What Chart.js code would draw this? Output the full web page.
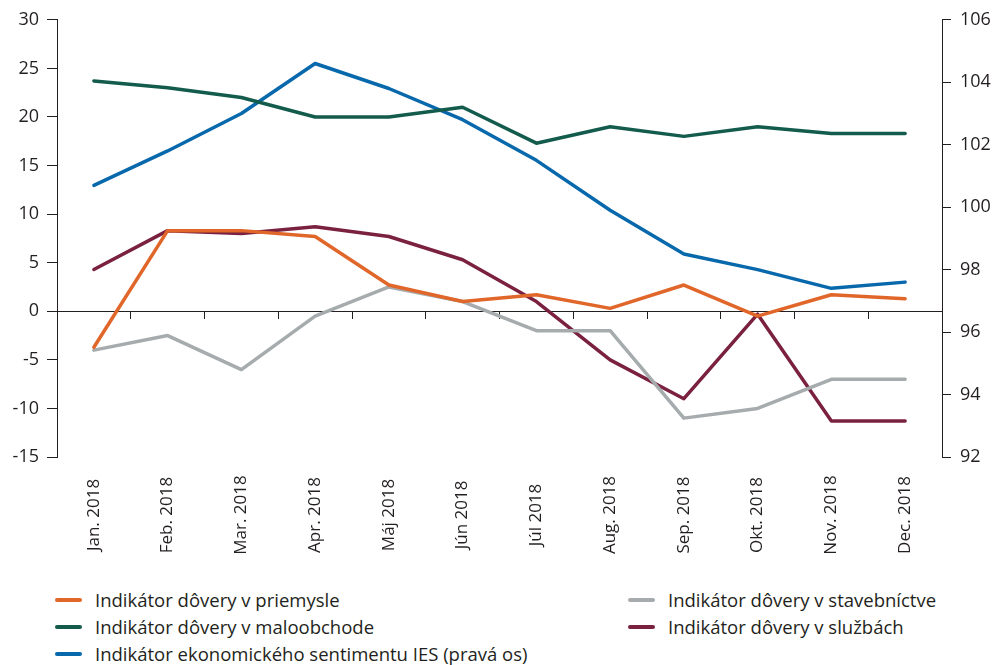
<!DOCTYPE html>
<html>
<head>
<meta charset="utf-8">
<script src="https://cdn.jsdelivr.net/npm/chart.js@4"></script>
<style>
  body { margin: 0; background: #fff; font-family: "Open Sans", sans-serif; color: #231f20; }
  #wrap { position: relative; width: 997px; height: 665px; }
  #chart { position: absolute; left: 0; top: 0; }
  #legend { position: absolute; left: 55px; top: 586px; display: grid; grid-template-columns: 573px 320px; grid-auto-rows: 27px; font-size: 18.5px; }
  .item { display: flex; align-items: center; white-space: nowrap; }
  .swatch { width: 27px; height: 4px; border-radius: 2px; margin-right: 13px; }
</style>
</head>
<body>
<div id="wrap">
  <canvas id="chart" width="997" height="570"></canvas>
  <div id="legend"></div>
</div>
<script>
const labels = ['Jan. 2018', 'Feb. 2018', 'Mar. 2018', 'Apr. 2018', 'Máj 2018', 'Jún 2018',
  'Júl 2018', 'Aug. 2018', 'Sep. 2018', 'Okt. 2018', 'Nov. 2018', 'Dec. 2018'];

// ľavá os
const priemysel = [-3.7, 8.3, 8.3, 7.7, 2.7, 1.0, 1.7, 0.3, 2.7, -0.5, 1.7, 1.3];
const stavebnictvo = [-4.0, -2.5, -6.0, -0.5, 2.5, 1.0, -2.0, -2.0, -11.0, -10.0, -7.0, -7.0];
const maloobchod = [23.7, 23.0, 22.0, 20.0, 20.0, 21.0, 17.3, 19.0, 18.0, 19.0, 18.3, 18.3];
const sluzby = [4.3, 8.3, 8.0, 8.7, 7.7, 5.3, 1.0, -5.0, -9.0, -0.3, -11.3, -11.3];
// pravá os
const ies = [100.7, 101.8, 103.0, 104.6, 103.8, 102.8, 101.5, 99.9, 98.5, 98.0, 97.4, 97.6];

const leftTicks = { min: -15, max: 30, step: 5 };
const rightTicks = { min: 92, max: 106, step: 2 };

const names = [
  'Indikátor dôvery v priemysle',
  'Indikátor dôvery v stavebníctve',
  'Indikátor dôvery v maloobchode',
  'Indikátor dôvery v službách',
  'Indikátor ekonomického sentimentu IES (pravá os)'
];
const colors = ['#e0662a', '#a6abad', '#135b4c', '#7b2140', '#0868ac'];
const series = [priemysel, stavebnictvo, maloobchod, sluzby, ies];

const ink = '#231f20';
const family = '"Open Sans", sans-serif';
const tickFont = { family: family, size: 18 };
const monthFont = { family: family, size: 17 };

// popisky mesiacov, otočené a centrované
const monthLabels = {
  id: 'monthLabels',
  afterDraw(chart) {
    const x = chart.scales.x;
    const c = chart.ctx;
    c.save();
    c.fillStyle = ink;
    c.font = monthFont.size + 'px ' + monthFont.family;
    c.textAlign = 'center';
    c.textBaseline = 'middle';
    labels.forEach((l, i) => {
      c.save();
      c.translate(x.getPixelForValue(i), 515);
      c.rotate(-Math.PI / 2);
      c.fillText(l, 0, 0);
      c.restore();
    });
    c.restore();
  }
};

new Chart(document.getElementById('chart'), {
  type: 'line',
  data: {
    labels: labels,
    datasets: series.map((d, i) => ({
      label: names[i],
      data: d,
      yAxisID: i === 4 ? 'y2' : 'y',
      borderColor: colors[i],
      backgroundColor: colors[i],
      borderWidth: 3.5,
      borderCapStyle: 'round',
      borderJoinStyle: 'round',
      pointRadius: 0,
      tension: 0
    }))
  },
  options: {
    responsive: false,
    animation: false,
    layout: { padding: { top: 18, bottom: 113, left: 0, right: 0 } },
    plugins: { legend: { display: false }, tooltip: { enabled: false } },
    scales: {
      x: {
        display: false,
        offset: true
      },
      xZero: {
        type: 'category',
        position: { y: 0 },
        offset: true,
        ticks: { display: false },
        grid: { drawOnChartArea: false, drawTicks: true, tickLength: 7, color: ink, offset: true },
        border: { display: true, color: ink, width: 1 }
      },
      y: {
        position: 'left',
        min: leftTicks.min,
        max: leftTicks.max,
        ticks: { stepSize: leftTicks.step, color: ink, font: tickFont, padding: 8 },
        grid: { drawOnChartArea: false, tickLength: 10, color: ink },
        border: { color: ink, width: 1 },
        afterFit: s => { s.width = 57; }
      },
      y2: {
        position: 'right',
        min: rightTicks.min,
        max: rightTicks.max,
        ticks: { stepSize: rightTicks.step, color: ink, font: tickFont, padding: 9 },
        grid: { drawOnChartArea: false, tickLength: 9, color: ink },
        border: { color: ink, width: 1 },
        afterFit: s => { s.width = 55; }
      }
    }
  },
  plugins: [monthLabels]
});

const legend = document.getElementById('legend');
names.forEach((n, i) => {
  const it = document.createElement('div');
  it.className = 'item';
  it.innerHTML = '<span class="swatch" style="background:' + colors[i] + '"></span>' + n;
  legend.appendChild(it);
});
</script>
</body>
</html>
